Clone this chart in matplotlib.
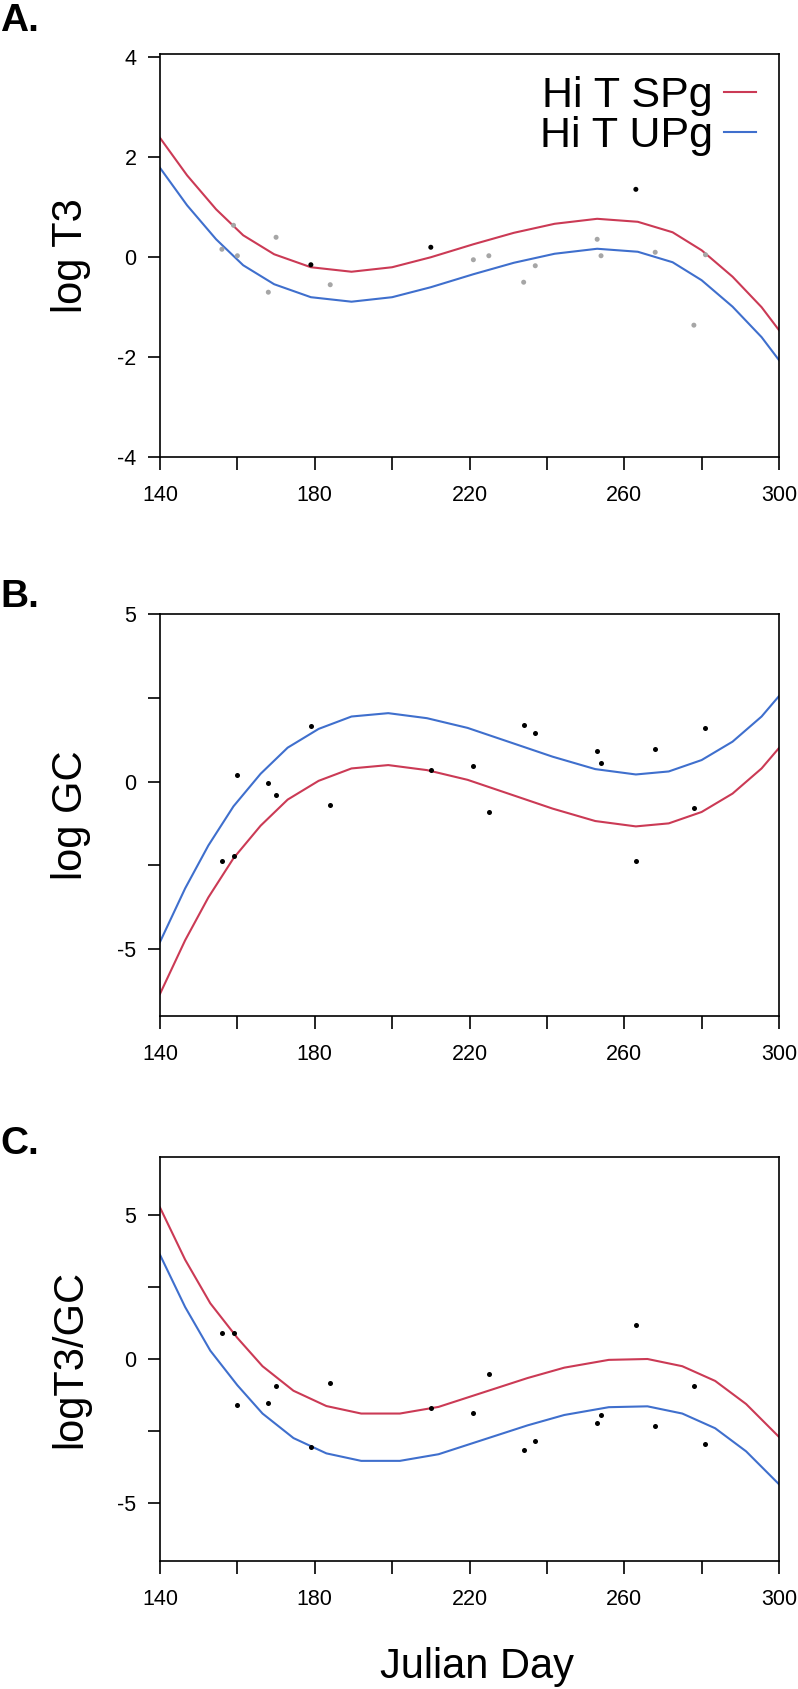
import numpy as np
import matplotlib
matplotlib.use('Agg')
import matplotlib.pyplot as plt

plt.rcParams['font.family'] = ['Liberation Sans', 'DejaVu Sans']

RED = '#cb3a55'
BLUE = '#3f6fcd'
GRAY = '#a6a6a6'

# sampling days and observations
days = [156, 159, 160, 168, 170, 179, 184, 210, 221, 225, 234, 237, 253, 254, 263, 268, 278, 281]
log_t3 = [0.16, 0.64, 0.03, -0.70, 0.40, -0.15, -0.55, 0.20, -0.05, 0.03, -0.50, -0.17, 0.36, 0.03, 1.36, 0.10, -1.36, 0.05]
t3_dark = [False, False, False, False, False, True, False, True, False, False, False, False, False, False, True, False, False, False]
log_gc = [-2.36, -2.23, 0.18, -0.05, -0.40, 1.67, -0.71, 0.34, 0.46, -0.91, 1.68, 1.44, 0.90, 0.56, -2.36, 0.98, -0.80, 1.59]
log_ratio = [0.90, 0.90, -1.58, -1.53, -0.93, -3.06, -0.84, -1.70, -1.88, -0.52, -3.15, -2.85, -2.21, -1.95, 1.17, -2.33, -0.95, -2.94]

# fitted curves
a_days = [140, 147, 154.5, 161.5, 169.5, 179, 189.5, 200, 210, 221, 231.5, 242, 253, 263.5, 272.5, 280, 288, 295.5, 300]
a_spg = [2.39, 1.64, 0.96, 0.44, 0.06, -0.20, -0.29, -0.20, 0.00, 0.26, 0.49, 0.67, 0.77, 0.71, 0.50, 0.14, -0.39, -1.00, -1.46]
a_upg = [1.79, 1.04, 0.36, -0.16, -0.54, -0.80, -0.89, -0.80, -0.60, -0.34, -0.11, 0.07, 0.17, 0.11, -0.10, -0.46, -0.99, -1.60, -2.06]

b_days = [140, 146.5, 152.5, 159, 166, 173, 181, 189.5, 199, 209, 219.5, 230, 241.5, 252.5, 263, 271.5, 280, 288, 295.5, 300]
b_spg = [-6.34, -4.74, -3.46, -2.29, -1.32, -0.54, 0.02, 0.39, 0.49, 0.34, 0.05, -0.36, -0.81, -1.18, -1.34, -1.25, -0.91, -0.36, 0.39, 1.00]
b_upg = [-4.79, -3.19, -1.91, -0.74, 0.23, 1.01, 1.57, 1.94, 2.04, 1.89, 1.60, 1.19, 0.74, 0.37, 0.21, 0.30, 0.64, 1.19, 1.94, 2.55]

c_days = [140, 146.5, 153, 160, 166.5, 174.5, 183, 192, 202, 212, 223.5, 235, 244.5, 256, 266, 275, 283.5, 291.5, 300]
c_spg = [5.25, 3.44, 1.93, 0.73, -0.25, -1.10, -1.63, -1.89, -1.89, -1.66, -1.16, -0.66, -0.30, -0.03, 0.00, -0.25, -0.76, -1.56, -2.70]
c_upg = [3.61, 1.80, 0.29, -0.91, -1.89, -2.74, -3.27, -3.53, -3.53, -3.30, -2.80, -2.30, -1.94, -1.67, -1.64, -1.89, -2.40, -3.20, -4.34]

x_major = [140, 180, 220, 260, 300]
x_minor = [160, 200, 240, 280]

W, H = 798, 1689
fig = plt.figure(figsize=(W / 100, H / 100), dpi=100)


def px_axes(top, bottom, left=160, right=779):
    return fig.add_axes([left / W, 1 - bottom / H, (right - left) / W, (bottom - top) / H])


def style(ax, ylim, yticks, ylabels, yminor, ylabel):
    ax.set_xlim(140, 300)
    ax.set_ylim(*ylim)
    ax.set_xticks(x_major)
    ax.set_xticks(x_minor, minor=True)
    ax.set_yticks(yticks)
    ax.set_yticklabels(ylabels)
    ax.set_yticks(yminor, minor=True)
    for s in ax.spines.values():
        s.set_linewidth(1.2)
    ax.tick_params(which='both', direction='out', length=9, width=1.2, labelsize=15.5)
    ax.tick_params(axis='x', pad=11)
    ax.tick_params(axis='y', pad=8)
    ax.set_ylabel(ylabel, fontsize=30)
    ax.yaxis.set_label_coords(-0.112, 0.5)


# A. log T3
axA = px_axes(54, 457)
axA.plot(a_days, a_spg, color=RED, lw=1.5, label='Hi T SPg')
axA.plot(a_days, a_upg, color=BLUE, lw=1.5, label='Hi T UPg')
axA.scatter(days, log_t3, s=13, c=['black' if d else GRAY for d in t3_dark], zorder=3, linewidths=0)
style(axA, (-4, 4.07), [-4, -2, 0, 2, 4], ['-4', '-2', '0', '2', '4'], [], 'log T3')
axA.legend(loc='upper right', bbox_to_anchor=(0.963, 0.945), frameon=False, fontsize=31,
           markerfirst=False, handlelength=0.75, handletextpad=0.25, labelspacing=0.0,
           borderpad=0, borderaxespad=0)

# B. log GC
axB = px_axes(614, 1016)
axB.plot(b_days, b_spg, color=RED, lw=1.5)
axB.plot(b_days, b_upg, color=BLUE, lw=1.5)
axB.scatter(days, log_gc, s=13, c='black', zorder=3, linewidths=0)
style(axB, (-7, 5), [-5, 0, 5], ['-5', '0', '5'], [-2.5, 2.5], 'log GC')

# C. log T3/GC
axC = px_axes(1157, 1561)
axC.plot(c_days, c_spg, color=RED, lw=1.5)
axC.plot(c_days, c_upg, color=BLUE, lw=1.5)
axC.scatter(days, log_ratio, s=13, c='black', zorder=3, linewidths=0)
style(axC, (-7, 7), [-5, 0, 5], ['-5', '0', '5'], [-2.5, 2.5], 'logT3/GC')

fig.text(477 / W, 1 - 1678 / H, 'Julian Day', fontsize=30, ha='center', va='baseline')

for letter, base in [('A.', 31), ('B.', 607), ('C.', 1154)]:
    fig.text(0, 1 - base / H, letter, fontsize=28, fontweight='bold', ha='left', va='baseline')

fig.savefig('out.png', dpi=100)
